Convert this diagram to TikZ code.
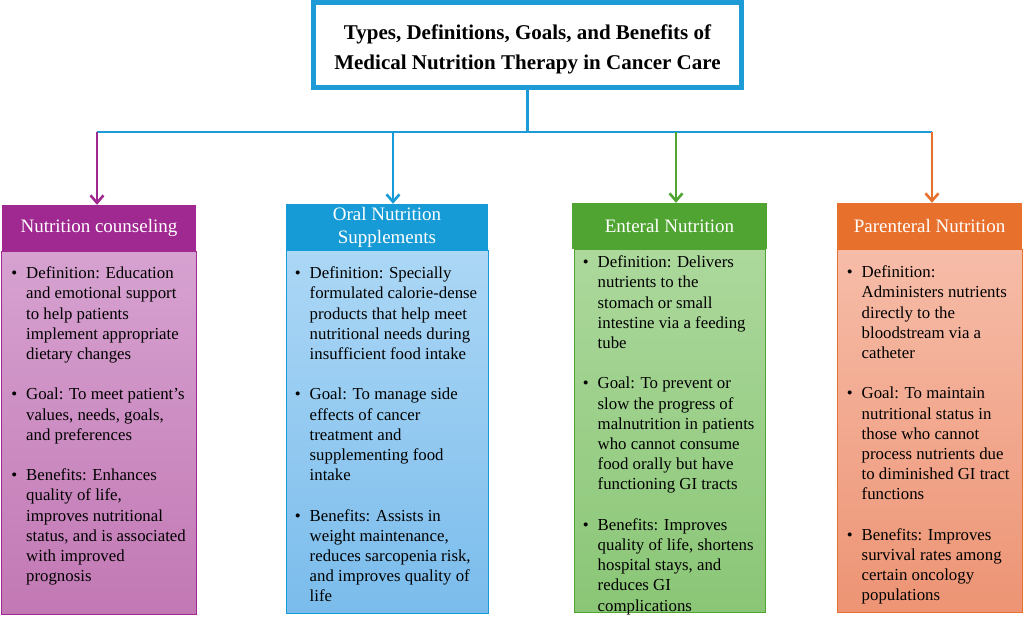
\documentclass[tikz,border=0pt]{standalone}
\usepackage{fontspec}
\setmainfont{Liberation Serif}
\usetikzlibrary{arrows.meta, positioning, calc}
\definecolor{mntblue}{RGB}{28,155,215}
\definecolor{ncpurple}{RGB}{160,40,145}
\definecolor{ncbodytop}{RGB}{214,162,208}
\definecolor{ncbodybot}{RGB}{194,120,180}
\definecolor{onsblue}{RGB}{22,155,214}
\definecolor{onsbodytop}{RGB}{172,215,245}
\definecolor{onsbodybot}{RGB}{122,188,236}
\definecolor{engreen}{RGB}{80,165,50}
\definecolor{enbodytop}{RGB}{172,216,156}
\definecolor{enbodybot}{RGB}{138,198,118}
\definecolor{pnorange}{RGB}{232,112,45}
\definecolor{pnbodytop}{RGB}{246,188,168}
\definecolor{pnbodybot}{RGB}{237,148,116}
\tikzset{
  titlebox/.style={rectangle, draw=mntblue, line width=5pt, fill=white,
                   minimum width=428pt, minimum height=85pt, inner sep=0pt,
                   align=center, font=\fontsize{21}{29.5}\selectfont\bfseries},
  header/.style={rectangle, minimum height=46pt, inner sep=0pt,
                 align=center, text=white, font=\fontsize{19}{23}\selectfont},
  bodybox/.style={rectangle, line width=1pt, inner sep=0pt, minimum height=363pt},
  bodytext/.style={align=left, inner sep=0pt, font=\fontsize{16.8}{20.2}\selectfont},
  bus/.style={line width=2.8pt, mntblue},
  drop/.style={-{Straight Barb[length=7.5pt,width=13pt]}, line width=2.6pt, draw=#1},
}
\newcommand{\bul}{\llap{\textbullet\hspace{9pt}}}
\begin{document}
\begin{tikzpicture}[x=1pt, y=-1pt]
  \useasboundingbox (0,0) rectangle (1024,616);
  % title
  \node[titlebox] (title) at (527.5,45)
        {\rule{0pt}{24pt}Types, Definitions, Goals, and Benefits of\\Medical Nutrition Therapy in Cancer Care};
  % headers
  \node[header, fill=ncpurple, minimum width=194pt] (hNC) at (99,228) {Nutrition counseling};
  \node[header, fill=onsblue, minimum width=202pt] (hONS) at (387,227) {Oral Nutrition\\Supplements};
  \node[header, fill=engreen, minimum width=195pt] (hEN) at (669.5,226) {Enteral Nutrition};
  \node[header, fill=pnorange, minimum width=185pt] (hPN) at (929.5,226) {Parenteral Nutrition};
  % bodies
  \node[bodybox, draw=ncpurple, top color=ncbodytop, bottom color=ncbodybot,
        minimum width=195pt, below=0pt of hNC] (bNC) {};
  \node[bodybox, draw=onsblue, top color=onsbodytop, bottom color=onsbodybot,
        minimum width=202pt, below=0pt of hONS] (bONS) {};
  \node[bodybox, draw=engreen, top color=enbodytop, bottom color=enbodybot,
        minimum width=191pt, below=0pt of hEN] (bEN) {};
  \node[bodybox, draw=pnorange, top color=pnbodytop, bottom color=pnbodybot,
        minimum width=185pt, below=0pt of hPN] (bPN) {};
  % body texts
  \node[bodytext, below right=15.5pt and 25pt of bNC.north west] (tNC)
        {\bul Definition: Education\\and emotional support\\to help patients\\implement appropriate\\dietary changes\\[20.2pt]
         \bul Goal: To meet patient’s\\values, needs, goals,\\and preferences\\[20.2pt]
         \bul Benefits: Enhances\\quality of life,\\improves nutritional\\status, and is associated\\with improved\\prognosis};
  \node[bodytext, below right=16.5pt and 24pt of bONS.north west] (tONS)
        {\bul Definition: Specially\\formulated calorie-dense\\products that help meet\\nutritional needs during\\insufficient food intake\\[20.2pt]
         \bul Goal: To manage side\\effects of cancer\\treatment and\\supplementing food\\intake\\[20.2pt]
         \bul Benefits: Assists in\\weight maintenance,\\reduces sarcopenia risk,\\and improves quality of\\life};
  \node[bodytext, below right=6.5pt and 24pt of bEN.north west] (tEN)
        {\bul Definition: Delivers\\nutrients to the\\stomach or small\\intestine via a feeding\\tube\\[20.2pt]
         \bul Goal: To prevent or\\slow the progress of\\malnutrition in patients\\who cannot consume\\food orally but have\\functioning GI tracts\\[20.2pt]
         \bul Benefits: Improves\\quality of life, shortens\\hospital stays, and\\reduces GI\\complications};
  \node[bodytext, below right=16.5pt and 25pt of bPN.north west] (tPN)
        {\bul Definition:\\Administers nutrients\\directly to the\\bloodstream via a\\catheter\\[20.2pt]
         \bul Goal: To maintain\\nutritional status in\\those who cannot\\process nutrients due\\to diminished GI tract\\functions\\[20.2pt]
         \bul Benefits: Improves\\survival rates among\\certain oncology\\populations};
  % connectors
  \coordinate (dNC) at (97,132);
  \coordinate (dONS) at (393,132);
  \coordinate (dEN) at (676,132);
  \coordinate (dPN) at (932,132);
  \draw[bus] (title.south) -- (title.south |- dNC);
  \draw[bus] (dNC) -- (dPN);
  \draw[drop=ncpurple] (dNC) -- (dNC |- hNC.north);
  \draw[drop=onsblue] (dONS) -- (dONS |- hONS.north);
  \draw[drop=engreen] (dEN) -- (dEN |- hEN.north);
  \draw[drop=pnorange] (dPN) -- (dPN |- hPN.north);
\end{tikzpicture}
\end{document}
